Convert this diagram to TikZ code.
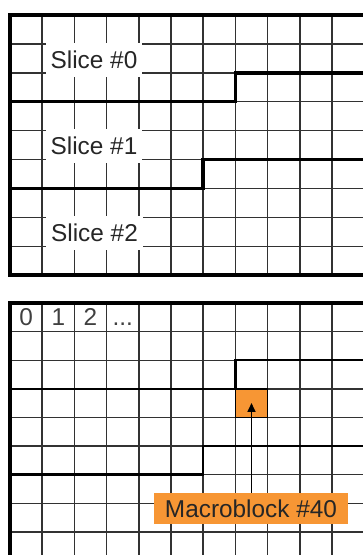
\documentclass[tikz,border=0pt]{standalone}
\usepackage{fontspec}
\setmainfont{Liberation Sans}
\usetikzlibrary{arrows.meta, positioning}
\definecolor{mborange}{RGB}{247,150,52}
\definecolor{gridgray}{RGB}{50,50,50}
\tikzset{
	gridline/.style={draw=gridgray, line width=1.2pt},
	frame/.style={draw=black, line width=3pt},
	sliceline/.style={draw=black, line width=3pt},
	slicelabel/.style={fill=white, text=black!85, inner sep=0pt, minimum width=2.88cm, minimum height=1.02cm},
	cellnum/.style={anchor=base, text=black!75, inner sep=0pt},
	arr/.style={-{Triangle[length=2.6mm, width=2.4mm]}, line width=0.9pt}
}

\begin{document}
\begin{tikzpicture}[
        x=0.03cm, y=-0.03cm,
        font=\fontsize{20.8}{25}\selectfont,
        mb/.style={rectangle, draw=black, fill=mborange, line width=1.2pt, inner sep=0pt, minimum width=0.966cm, minimum height=0.858cm},
        mblabel/.style={rectangle, fill=mborange, text=black!85, inner sep=0pt, minimum width=5.79cm, minimum height=0.93cm}
    ]
        \useasboundingbox (0,0) rectangle (363,555);

        % upper frame: slices
        \foreach \k in {1,...,10}
            \draw[gridline] ({10+32.2*\k},15) -- ({10+32.2*\k},275.1);
        \foreach \j in {1,...,8}
            \draw[gridline] (10,{15+28.9*\j}) -- (363,{15+28.9*\j});
        \draw[sliceline] (10,101.7) -| (235.4,72.8) -- (363,72.8);
        \draw[sliceline] (10,188.4) -| (203.2,159.5) -- (363,159.5);
        \draw[frame] (363,15) -- (10,15) -- (10,275.1) -- (363,275.1);

        \node[slicelabel] (slice0) at (94,60) {Slice \#0};
        \node[slicelabel] (slice1) at (94,146) {Slice \#1};
        \node[slicelabel] (slice2) at (94.5,233) {Slice \#2};

        % lower frame: macroblocks
        \foreach \k in {1,...,10}
            \draw[gridline] ({10+32.2*\k},303) -- ({10+32.2*\k},555);
        \foreach \j in {1,...,8}
            \draw[gridline] (10,{303+28.6*\j}) -- (363,{303+28.6*\j});
        \draw[sliceline, line width=2pt] (10,388.8) -| (235.4,360.2) -- (363,360.2);
        \draw[sliceline, line width=2pt] (10,474.6) -| (203.2,446) -- (363,446);
        \draw[frame] (363,303) -- (10,303) -- (10,555);

        \node[cellnum] (num0) at (26.1,325) {0};
        \node[cellnum] (num1) at (58.3,325) {1};
        \node[cellnum] (num2) at (90.5,325) {2};
        \node[cellnum] (numdots) at (122.7,325) {...};

        \node[mb] (mb40) at (251.5,403.1) {};
        \node[mblabel] (mb40label) at (251,508.5) {Macroblock \#40};

        \draw[arr] (mb40label.north -| mb40.center) -- (mb40.center);
    \end{tikzpicture}
\end{document}
